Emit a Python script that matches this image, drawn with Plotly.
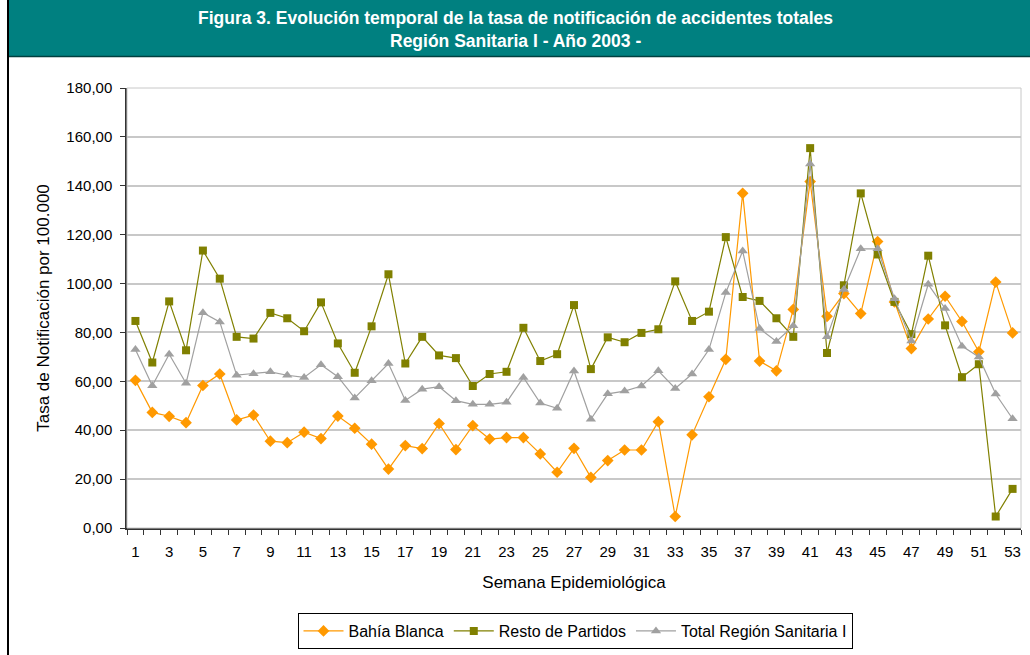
import plotly.graph_objects as go

weeks = [str(i) for i in range(1, 54)]

bahia_blanca = [60.4, 47.3, 45.7, 43.1, 58.3, 63.0, 44.2, 46.2, 35.5, 34.9,
                39.2, 36.6, 45.8, 40.8, 34.3, 24.1, 33.7, 32.5, 42.7, 32.1,
                41.9, 36.4, 37.0, 37.0, 30.3, 22.8, 32.6, 20.7, 27.6, 31.9,
                31.9, 43.5, 4.7, 38.1, 53.7, 69.0, 136.9, 68.3, 64.3, 89.4,
                141.7, 86.6, 95.9, 87.7, 117.2, 92.5, 73.4, 85.5, 94.8, 84.5,
                72.1, 100.6, 79.8]

resto_partidos = [84.7, 67.7, 92.7, 72.7, 113.5, 102.0, 78.2, 77.5, 88.0, 85.8,
                  80.5, 92.3, 75.5, 63.5, 82.5, 103.8, 67.3, 78.2, 70.6, 69.5,
                  58.1, 63.0, 63.9, 81.9, 68.3, 71.1, 91.2, 65.0, 78.0, 76.0,
                  79.8, 81.3, 100.9, 84.7, 88.5, 119.0, 94.5, 92.9, 85.8, 78.2,
                  155.4, 71.6, 99.3, 136.9, 111.9, 92.5, 79.3, 111.4, 82.9, 61.7,
                  67.0, 4.7, 16.0]

total_region = [73.0, 58.2, 71.1, 59.2, 88.1, 84.3, 62.5, 63.1, 63.9, 62.5,
                61.6, 66.8, 61.9, 53.2, 60.2, 67.3, 52.2, 56.8, 57.8, 52.1,
                50.6, 50.6, 51.4, 61.6, 51.1, 49.0, 64.2, 44.5, 54.9, 56.0,
                58.1, 64.3, 57.1, 63.0, 73.0, 96.3, 113.3, 81.6, 76.3, 82.7,
                148.9, 78.2, 97.6, 114.2, 114.2, 93.8, 76.5, 99.7, 89.8, 74.4,
                70.0, 54.8, 44.7]

y_ticks = [0, 20, 40, 60, 80, 100, 120, 140, 160, 180]
y_labels = ["0,00", "20,00", "40,00", "60,00", "80,00", "100,00",
            "120,00", "140,00", "160,00", "180,00"]
x_labels = [w if int(w) % 2 == 1 else "" for w in weeks]

FONT = "Liberation Sans, Arial, sans-serif"

fig = go.Figure()
fig.add_trace(go.Scatter(
    x=weeks, y=bahia_blanca, name="Bahía Blanca", mode="lines+markers",
    line=dict(color="#FF9900", width=1.2),
    marker=dict(symbol="diamond", size=9, color="#FF9900")))
fig.add_trace(go.Scatter(
    x=weeks, y=resto_partidos, name="Resto de Partidos", mode="lines+markers",
    line=dict(color="#808000", width=1.2),
    marker=dict(symbol="square", size=8, color="#808000")))
fig.add_trace(go.Scatter(
    x=weeks, y=total_region, name="Total Región Sanitaria I", mode="lines+markers",
    line=dict(color="#A0A0A0", width=1.2),
    marker=dict(symbol="triangle-up", size=9, color="#A0A0A0")))

L, R, T, B = 127, 9, 88, 127
W, H = 1030, 655
pw, ph = W - L - R, H - T - B


def px(x):
    return (x - L) / pw


def py(y):
    return (H - B - y) / ph


shapes = [
    dict(type="rect", xref="paper", yref="paper", x0=px(8), x1=px(1031),
         y0=py(57), y1=py(-1), fillcolor="#008080", line=dict(width=0), layer="below"),
    dict(type="line", xref="paper", yref="paper", x0=px(8), x1=px(1031),
         y0=py(56.5), y1=py(56.5), line=dict(color="#004040", width=1.5)),
    dict(type="line", xref="paper", yref="paper", x0=px(8), x1=px(8),
         y0=py(0), y1=py(655), line=dict(color="#000000", width=2)),
    dict(type="rect", xref="paper", yref="paper", x0=0, x1=1, y0=0, y1=1,
         line=dict(color="#C8C8C8", width=1)),
]

TFONT = dict(family="Liberation Sans Narrow, Arial Narrow, " + FONT, size=17.5, color="white")
annotations = [
    dict(text="<b>Figura 3. Evolución temporal de la tasa de notificación de accidentes totales</b>",
         xref="paper", yref="paper", x=px(515), y=py(18), showarrow=False,
         font=TFONT, xanchor="center", yanchor="middle"),
    dict(text="<b>Región Sanitaria I - Año 2003 -</b>",
         xref="paper", yref="paper", x=px(515), y=py(41), showarrow=False,
         font=TFONT, xanchor="center", yanchor="middle"),
]

fig.update_layout(
    width=W, height=H,
    margin=dict(l=L, r=R, t=T, b=B, autoexpand=False),
    paper_bgcolor="white", plot_bgcolor="white",
    font=dict(family=FONT, size=15, color="#000000"),
    showlegend=True,
    legend=dict(orientation="h", x=px(575), xanchor="center", y=py(613), yanchor="top",
                bordercolor="#000000", borderwidth=1, font=dict(size=16),
                itemwidth=40, tracegroupgap=0),
    shapes=shapes,
    annotations=annotations,
    xaxis=dict(type="category", tickmode="array", tickvals=weeks, ticktext=x_labels,
               tickson="boundaries", ticks="outside", ticklen=5, tickcolor="#333333",
               tickangle=0, automargin=False, ticklabelstandoff=9,
               showline=True, linecolor="#333333", linewidth=1.5, showgrid=False,
               range=[-0.5, 52.5], tickfont=dict(size=15),
               title=dict(text="Semana Epidemiológica", font=dict(size=17), standoff=17)),
    yaxis=dict(range=[0, 180], tickmode="array", tickvals=y_ticks, ticktext=y_labels,
               ticks="outside", ticklen=5, tickcolor="#333333", automargin=False,
               ticklabelstandoff=5,
               showline=True, linecolor="#333333", linewidth=1.5,
               showgrid=True, gridcolor="#C8C8C8", gridwidth=1.5, zeroline=False,
               tickfont=dict(size=15),
               title=dict(text="Tasa de Notificación por 100.000", font=dict(size=17), standoff=12)),
)

fig.write_html("out.html", config={"displayModeBar": False},
               post_script="document.body.style.margin='0';document.body.style.overflow='hidden';")
